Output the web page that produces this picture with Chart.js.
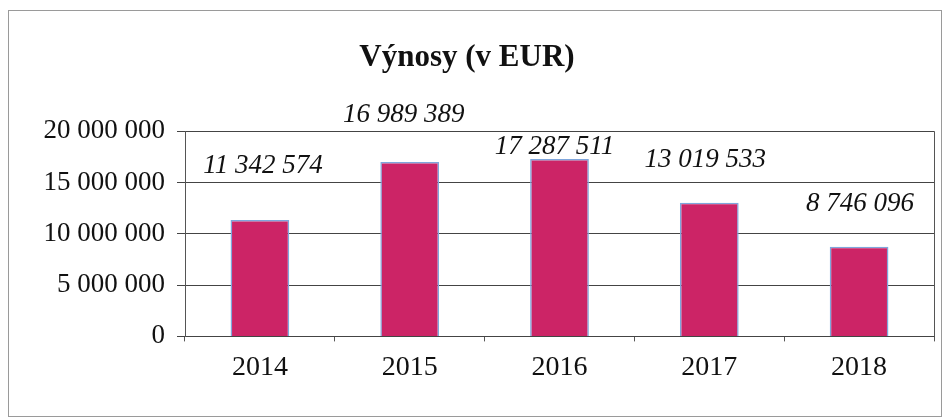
<!DOCTYPE html>
<html>
<head>
<meta charset="utf-8">
<script src="https://cdn.jsdelivr.net/npm/chart.js@4"></script>
<style>
  body { margin: 0; background: #fff; }
  #wrap { width: 945px; height: 420px; }
</style>
</head>
<body>
<div id="wrap"><canvas id="vynosyChart" width="945" height="420"></canvas></div>
<script>
// data
const years = ['2014', '2015', '2016', '2017', '2018'];
const vynosy = [11342574, 16989389, 17287511, 13019533, 8746096];
const valueLabels = ['11 342 574', '16 989 389', '17 287 511', '13 019 533', '8 746 096'];
const yTickLabels = ['0', '5 000 000', '10 000 000', '15 000 000', '20 000 000'];

// where the labels sit relative to the top of each bar (moved by hand in the original)
const labelShift = [[3, -54], [-6, -47], [-5, -12], [-4, -43], [1, -43]];

const serif = "'Liberation Serif', 'Times New Roman', serif";

// outer frame + right edge of plot
const framePlugin = {
  id: 'frame',
  beforeDraw(chart) {
    const c = chart.ctx;
    c.save();
    c.strokeStyle = '#9a9a9a';
    c.lineWidth = 1;
    c.strokeRect(8.5, 10.5, 933, 406);
    c.restore();
  },
  afterDraw(chart) {
    const c = chart.ctx;
    const a = chart.chartArea;
    c.save();
    c.strokeStyle = '#555';
    c.lineWidth = 1;
    c.beginPath();
    c.moveTo(Math.round(a.right) + 0.5, a.top);
    c.lineTo(Math.round(a.right) + 0.5, a.bottom);
    c.stroke();
    c.restore();
  }
};

// italic value labels above the bars
const valueLabelPlugin = {
  id: 'valueLabels',
  afterDatasetsDraw(chart) {
    const c = chart.ctx;
    const bars = chart.getDatasetMeta(0).data;
    c.save();
    c.font = 'italic 27px ' + serif;
    c.fillStyle = '#111';
    c.textAlign = 'center';
    c.textBaseline = 'middle';
    bars.forEach((bar, i) => {
      c.fillText(valueLabels[i], bar.x + labelShift[i][0], bar.y + labelShift[i][1]);
    });
    c.restore();
  }
};

const ctx = document.getElementById('vynosyChart').getContext('2d');

const myChart = new Chart(ctx, {
  type: 'bar',
  data: {
    labels: years,
    datasets: [{
      label: 'Výnosy',
      data: vynosy,
      backgroundColor: '#CC2466',
      borderColor: '#7FA6DC',
      borderWidth: 1.5,
      barPercentage: 0.49,
      categoryPercentage: 0.8
    }]
  },
  options: {
    responsive: false,
    animation: false,
    layout: {
      padding: { left: 0, right: 11, top: 0, bottom: 27 }
    },
    plugins: {
      legend: { display: false },
      tooltip: { enabled: false },
      title: {
        display: true,
        text: 'Výnosy (v EUR)',
        color: '#111',
        font: { family: serif, size: 31, weight: 'bold' },
        padding: { top: 39, bottom: 55 }
      }
    },
    scales: {
      x: {
        grid: {
          drawOnChartArea: false,
          drawTicks: true,
          tickLength: 5,
          color: '#555'
        },
        border: { display: true, color: '#444' },
        ticks: {
          color: '#111',
          padding: 9,
          font: { family: serif, size: 28 }
        }
      },
      y: {
        min: 0,
        max: 20000000,
        afterFit: scale => { scale.width = 185; },
        grid: {
          color: '#444',
          tickLength: 8
        },
        border: { display: true, color: '#555' },
        ticks: {
          stepSize: 5000000,
          color: '#111',
          padding: 12,
          font: { family: serif, size: 27 },
          callback: (value, index) => yTickLabels[index]
        }
      }
    }
  },
  plugins: [framePlugin, valueLabelPlugin]
});
</script>
</body>
</html>
